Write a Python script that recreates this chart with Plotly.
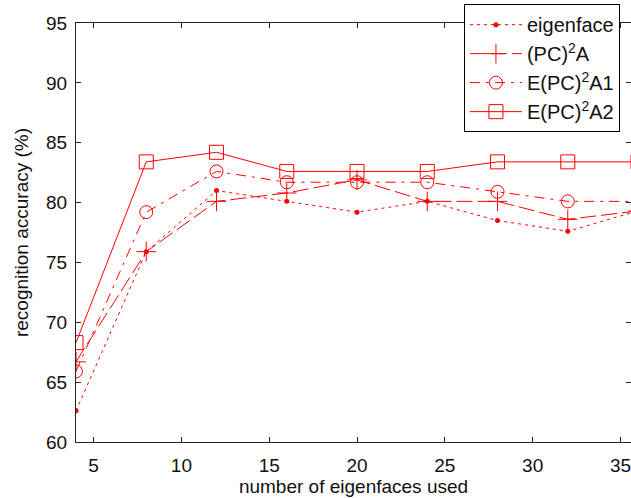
import plotly.graph_objects as go

x_vals = [4, 8, 12, 16, 20, 24, 28, 32, 36]
eigenface = [62.6, 75.9, 81.0, 80.1, 79.2, 80.1, 78.5, 77.6, 79.3]
pc2a = [66.7, 75.9, 80.1, 80.8, 81.9, 80.1, 80.1, 78.6, 79.3]
epc2a1 = [65.9, 79.2, 82.6, 81.7, 81.7, 81.7, 80.9, 80.1, 80.1]
epc2a2 = [68.3, 83.4, 84.2, 82.6, 82.6, 82.6, 83.4, 83.4, 83.4]

names = ["eigenface", "(PC)<sup>2</sup>A", "E(PC)<sup>2</sup>A1", "E(PC)<sup>2</sup>A2"]
x_ticks = [5, 10, 15, 20, 25, 30, 35]
y_ticks = [60, 65, 70, 75, 80, 85, 90, 95]

red = "#ff0000"
fig = go.Figure()
fig.add_trace(go.Scatter(x=x_vals, y=eigenface, name=names[0], mode="lines+markers",
                         line=dict(color=red, width=1, dash="3px,4px"),
                         marker=dict(symbol="circle", size=5, color=red)))
fig.add_trace(go.Scatter(x=x_vals, y=pc2a, name=names[1], mode="lines+markers",
                         line=dict(color=red, width=1, dash="16px,5px"),
                         marker=dict(symbol="cross-thin", size=14, color=red,
                                     line=dict(color=red, width=1))))
fig.add_trace(go.Scatter(x=x_vals, y=epc2a1, name=names[2], mode="lines+markers",
                         line=dict(color=red, width=1, dash="10px,6px,3px,6px"),
                         marker=dict(symbol="circle-open", size=13, color=red,
                                     line=dict(color=red, width=1))))
fig.add_trace(go.Scatter(x=x_vals, y=epc2a2, name=names[3], mode="lines+markers",
                         line=dict(color=red, width=1),
                         marker=dict(symbol="square-open", size=14, color=red,
                                     line=dict(color=red, width=1))))

font_family = "Liberation Sans, Arial, sans-serif"
fig.update_layout(
    width=631, height=498,
    margin=dict(l=76, r=0, t=23, b=56, autoexpand=False),
    paper_bgcolor="white", plot_bgcolor="white",
    font=dict(family=font_family, size=19, color="#111111"),
    showlegend=True,
    legend=dict(x=0.699, y=1.045, xanchor="left", yanchor="top",
                bgcolor="white", bordercolor="black", borderwidth=1,
                font=dict(size=20), tracegroupgap=0, itemwidth=52),
    xaxis=dict(range=[4, 35.6], tickvals=x_ticks, ticks="inside", ticklen=5,
               tickcolor="#222", showline=True, linecolor="#222", linewidth=1,
               mirror="ticks", showgrid=False, zeroline=False, automargin=False,
               ticklabelstandoff=6, ticklabeloverflow="allow",
               title=dict(text="number of eigenfaces used", standoff=2,
                          font=dict(size=19))),
    yaxis=dict(range=[60, 95], tickvals=y_ticks, ticks="inside", ticklen=5,
               tickcolor="#222", showline=True, linecolor="#222", linewidth=1,
               mirror="ticks", showgrid=False, zeroline=False, automargin=False,
               ticklabelstandoff=4,
               title=dict(text="recognition accuracy (%)", standoff=12,
                          font=dict(size=19))),
)
fig.write_html(
    "out.html",
    config={"displayModeBar": False},
    post_script="document.body.style.margin='0';document.body.style.overflow='hidden';",
)
